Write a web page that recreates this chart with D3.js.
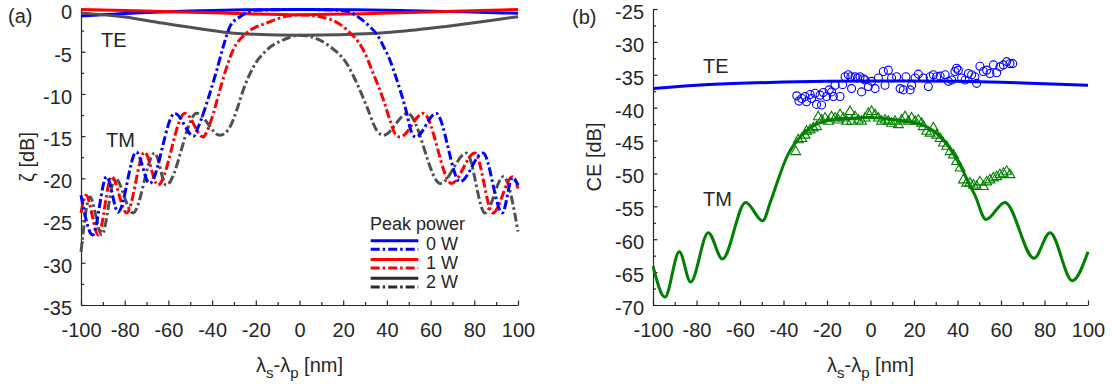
<!DOCTYPE html>
<html>
<head>
<meta charset="utf-8">
<script src="https://cdn.jsdelivr.net/npm/d3@7"></script>
<style>
body { margin: 0; background: #fff; }
svg { display: block; }
text { font-family: "Liberation Sans", Arial, sans-serif; fill: #262626; }
</style>
</head>
<body>
<svg id="chart" width="1112" height="387"></svg>
<script>
// ticks
const xTicks = [-100, -80, -60, -40, -20, 0, 20, 40, 60, 80, 100];
const xMinor = [-90, -70, -50, -30, -10, 10, 30, 50, 70, 90];
const yTicksA = [0, -5, -10, -15, -20, -25, -30, -35];
const yMinorA = [-2.5, -7.5, -12.5, -17.5, -22.5, -27.5, -32.5];
const yTicksB = [-25, -30, -35, -40, -45, -50, -55, -60, -65, -70];
const yMinorB = [-27.5, -32.5, -37.5, -42.5, -47.5, -52.5, -57.5, -62.5, -67.5];

// (a) TE, solid lines  [detuning nm, dB]
const teA0 = [[-100,-0.77],[-75,-0.4],[-50,-0.17],[-25,-0.04],[0,0],[25,-0.04],[50,-0.14],[75,-0.28],[100,-0.45]];
const teA1 = [[-100,0],[-75,-0.15],[-50,-0.32],[-25,-0.5],[0,-0.62],[25,-0.52],[50,-0.36],[75,-0.17],[100,0]];
const teA2 = [[-100,-0.4],[-80,-0.9],[-63,-1.6],[-45,-2.3],[-30,-2.8],[0,-3.05],[36,-2.8],[50,-2.5],[67,-2.0],[85,-1.4],[100,-0.85]];

// (a) TM, dash-dot lines
const tmA0 = [[-100,-22.0],[-94.7,-26.7],[-88.3,-19.8],[-83.0,-24.0],[-74.7,-16.9],[-68.6,-20.6],[-57.1,-12.3],[-48.4,-15.0],
  [-46.5,-14.0],[-44,-12.3],[-41,-9.9],[-37.9,-7.2],[-34.9,-4.4],[-31.8,-2.0],[-27.2,-0.85],[-20,-0.1],[0,0],[15,-0.05],
  [21.6,-0.2],[28,-1.1],[32,-2.0],[35.3,-2.9],[38.5,-4.4],[41.4,-6.0],[44,-7.9],[46,-9.5],[49.1,-12.3],[50.8,-14.2],
  [53.2,-15.1],[62.5,-12.3],[73.5,-20.4],[84,-17.0],[92.8,-24.1],[97.5,-19.9],[100,-20.8]];
const tmA1 = [[-100,-24.1],[-97.7,-22.0],[-92.1,-26.7],[-86.0,-19.8],[-79.1,-24.1],[-70.9,-16.9],[-64.8,-20.8],[-52.4,-12.3],
  [-44.0,-15.1],[-42.5,-14.5],[-39.4,-12.3],[-36.4,-9.5],[-33.3,-6.8],[-30.4,-4.8],[-24.2,-2.8],[-15,-1.6],[-5,-0.75],[0,-0.65],
  [9.4,-0.85],[21.6,-2.4],[29.2,-4.8],[33.8,-7.6],[38.4,-10.7],[41.4,-13.1],[43.7,-14.7],[46,-15.1],[56.7,-12.3],
  [69.6,-20.6],[80.3,-17.0],[88.5,-24.1],[97.5,-19.8],[100,-21.2]];
const tmA2 = [[-100,-28.7],[-95.9,-22.2],[-90.5,-26.7],[-84.4,-20.0],[-76.2,-24.1],[-66.3,-17.0],[-61.0,-20.8],[-47.0,-12.3],
  [-36.4,-14.9],[-31.8,-13.9],[-28.7,-11.9],[-25.7,-9.5],[-21.1,-6.8],[-15,-4.8],[-7.4,-3.6],[0,-3.05],[4.8,-3.2],[14,-4.4],
  [21.6,-6.4],[26.2,-8.7],[30.8,-11.5],[35.3,-14.3],[38.4,-14.9],[49.5,-12.3],[64.5,-20.6],[76.5,-17.0],[84.9,-24.1],
  [93.3,-19.8],[100,-26.3]];

const powers = ["0 W", "1 W", "2 W"];
const colors = ["#0000ff", "#ff0000", "#505050"];
const legendColors = ["#0000ff", "#ff0000", "#2a2a2a"];

// (b) simulated CE
const teB = [[-100,-37.1],[-80,-36.6],[-60,-36.3],[-40,-36.1],[-20,-36.0],[0,-35.95],[20,-35.95],[40,-36.0],[60,-36.15],[80,-36.35],[100,-36.6]];
const tmB = [[-100,-64.1],[-94.5,-68.8],[-87.9,-61.9],[-82.7,-66.5],[-74.6,-59.0],[-68.1,-63.0],[-57.4,-54.4],[-49.6,-57.2],
  [-46,-54.3],[-42,-50.5],[-38.5,-47.5],[-33,-44.7],[-26,-42.7],[-17,-41.8],[-8,-41.6],[0,-41.5],[10,-41.8],[16,-42.1],
  [22.8,-42.5],[28.9,-43.5],[35,-45.5],[41.1,-48.7],[45.7,-51.8],[48,-53.3],[53.1,-57.0],[61.8,-54.4],[75.2,-62.9],
  [82.5,-59.0],[92.8,-66.3],[100,-61.9]];

// (b) measured CE
const teMeas = [[-33.9,-38.2],[-32.9,-39.0],[-31.6,-38.6],[-30.1,-38.3],[-29.4,-39.1],[-27.8,-38.0],[-27.1,-38.6],[-25.5,-37.8],
  [-24.8,-39.5],[-23.2,-38.1],[-22.5,-39.6],[-21.7,-37.7],[-20.2,-38.3],[-19.0,-37.3],[-17.9,-37.6],[-17.1,-38.3],[-16.3,-36.6],
  [-14.0,-38.3],[-12.8,-36.5],[-11.7,-35.3],[-10.2,-35.0],[-9.0,-35.3],[-8.7,-37.1],[-7.1,-35.3],[-6.0,-35.5],[-4.8,-35.3],
  [-4.1,-37.6],[-3.3,-35.6],[-2.5,-35.8],[-1.0,-36.8],[0.5,-36.0],[2.1,-37.1],[3.6,-35.5],[5.9,-34.5],[6.7,-36.6],[8.2,-34.3],
  [9.7,-35.5],[12.0,-35.3],[13.6,-37.1],[15.1,-37.3],[16.3,-35.3],[18.2,-37.3],[18.9,-36.6],[20.5,-35.5],[22.0,-34.9],
  [24.3,-35.5],[26.6,-36.8],[27.4,-35.3],[28.9,-35.0],[30.4,-35.3],[32.0,-35.2],[34.3,-35.0],[35.8,-36.0],[37.3,-35.8],
  [38.8,-34.5],[39.6,-34.0],[40.4,-34.3],[41.9,-35.5],[43.5,-35.8],[45.0,-34.8],[46.5,-35.0],[48.0,-35.3],[48.8,-36.3],
  [50.3,-33.7],[51.9,-34.5],[53.4,-34.3],[54.9,-34.8],[56.5,-33.5],[58.0,-34.7],[59.5,-33.8],[61.1,-33.5],[62.6,-33.0],
  [64.1,-33.3],[65.4,-33.3]];
const tmMeas = [[-34.4,-46.7],[-33.2,-44.9],[-31.6,-44.7],[-30.1,-44.2],[-29.4,-43.6],[-27.8,-43.4],[-26.3,-43.1],[-24.8,-42.9],
  [-24.0,-41.4],[-22.5,-41.9],[-20.9,-41.6],[-19.4,-42.1],[-17.9,-41.4],[-16.3,-41.6],[-14.8,-41.9],[-14.0,-41.1],[-12.5,-41.6],
  [-11.0,-42.1],[-9.4,-40.6],[-8.7,-42.1],[-7.1,-41.4],[-5.6,-41.9],[-4.1,-42.1],[-2.5,-41.6],[-1.0,-40.9],[0.5,-40.6],
  [2.1,-41.1],[3.6,-41.6],[5.1,-42.1],[6.7,-41.9],[8.2,-42.1],[9.7,-42.4],[11.3,-42.1],[12.8,-42.6],[14.3,-41.9],[15.9,-41.4],
  [17.4,-42.1],[18.9,-41.6],[20.5,-42.1],[22.0,-41.9],[23.5,-42.4],[24.3,-42.9],[25.8,-43.6],[27.4,-43.9],[28.9,-43.1],
  [30.4,-44.2],[32.0,-44.7],[33.5,-45.4],[35.0,-45.9],[36.6,-46.7],[38.1,-47.2],[39.6,-48.2],[41.2,-49.2],[42.7,-51.0],
  [44.2,-51.5],[45.7,-51.5],[47.3,-51.8],[48.8,-52.0],[50.3,-51.3],[51.9,-52.0],[53.4,-51.3],[54.9,-51.0],[56.5,-50.7],
  [58.0,-50.5],[59.5,-50.2],[61.1,-50.0],[62.6,-49.7],[64.1,-50.2]];

const svg = d3.select("#chart");
const dashDot = "9,3,2.5,3";

const xA = d3.scaleLinear().domain([-100, 100]).range([81, 518]);
const yA = d3.scaleLinear().domain([-35, 0]).range([305, 9.5]);
const xB = d3.scaleLinear().domain([-100, 100]).range([653, 1088]);
const yB = d3.scaleLinear().domain([-70, -25]).range([305, 9]);

function drawAxes(x, y, yTicks, yMinor) {
  const y0 = y.range()[0], x0 = x.range()[0];
  const gx = svg.append("g").attr("transform", "translate(0," + y0 + ")")
    .call(d3.axisBottom(x).tickValues(xTicks).tickSize(-4.5).tickSizeOuter(0).tickPadding(18).tickFormat(d3.format("d")));
  svg.append("g").attr("transform", "translate(0," + y0 + ")")
    .call(d3.axisBottom(x).tickValues(xMinor).tickSize(-3).tickFormat(""))
    .call(g => g.select(".domain").remove());
  const gy = svg.append("g").attr("transform", "translate(" + x0 + ",0)")
    .call(d3.axisLeft(y).tickValues(yTicks).tickSize(-4.5).tickSizeOuter(0).tickPadding(9).tickFormat(d3.format("d")));
  svg.append("g").attr("transform", "translate(" + x0 + ",0)")
    .call(d3.axisLeft(y).tickValues(yMinor).tickSize(-3).tickFormat(""))
    .call(g => g.select(".domain").remove());
  gy.selectAll("text").attr("dy", "0.47em");
  svg.selectAll(".tick line, .domain").attr("stroke", "#262626").attr("stroke-width", 1.2);
  [gx, gy].forEach(g => g.selectAll("text")
    .attr("font-size", 20).attr("font-family", "Liberation Sans, Arial, sans-serif")
    .attr("fill", "#262626").text(d => d < 0 ? "-" + Math.abs(d) : d));
}

function xLabel(cx) {
  const t = svg.append("text").attr("x", cx).attr("y", 372).attr("text-anchor", "middle").attr("font-size", 20);
  t.append("tspan").text("λ");
  t.append("tspan").attr("font-size", 15).attr("dy", 6).text("s");
  t.append("tspan").attr("dy", -6).text("-λ");
  t.append("tspan").attr("font-size", 15).attr("dy", 6).text("p");
  t.append("tspan").attr("dy", -6).text(" [nm]");
}

function yLabel(bx, cy, s) {
  svg.append("text").attr("transform", "translate(" + bx + "," + cy + ") rotate(-90)")
    .attr("text-anchor", "middle").attr("font-size", 20).text(s);
}

function label(x, y, s) {
  svg.append("text").attr("x", x).attr("y", y).attr("font-size", 20).text(s);
}

// panel (a)
drawAxes(xA, yA, yTicksA, yMinorA);
const lineA = d3.line().x(d => xA(d[0])).y(d => yA(d[1])).curve(d3.curveMonotoneX);
[teA0, teA1, teA2].forEach((s, i) => {
  svg.append("path").attr("d", lineA(s)).attr("fill", "none")
    .attr("stroke", colors[i]).attr("stroke-width", 3);
});
[tmA2, tmA1, tmA0].forEach((s, i) => {
  svg.append("path").attr("d", lineA(s)).attr("fill", "none")
    .attr("stroke", colors[2 - i]).attr("stroke-width", 3)
    .attr("stroke-dasharray", dashDot);
});
xLabel(299.5);
yLabel(34, 157, "ζ [dB]");
label(8, 23, "(a)");
label(101, 47, "TE");
label(106, 147, "TM");

// legend
svg.append("text").attr("x", 370).attr("y", 229.5).attr("font-size", 18).text("Peak power");
powers.forEach((p, i) => {
  const top = 240.7 + i * 18.8;
  svg.append("line").attr("x1", 370.7).attr("x2", 418.3).attr("y1", top).attr("y2", top)
    .attr("stroke", legendColors[i]).attr("stroke-width", 3);
  svg.append("line").attr("x1", 370.7).attr("x2", 418.3).attr("y1", top + 8.6).attr("y2", top + 8.6)
    .attr("stroke", legendColors[i]).attr("stroke-width", 3).attr("stroke-dasharray", dashDot);
  svg.append("text").attr("x", 426).attr("y", top + 9.5).attr("font-size", 18).text(p);
});

// panel (b)
drawAxes(xB, yB, yTicksB, yMinorB);
const lineB = d3.line().x(d => xB(d[0])).y(d => yB(d[1])).curve(d3.curveMonotoneX);

svg.append("g").selectAll("path").data(tmMeas).enter().append("path")
  .attr("d", d3.symbol(d3.symbolTriangle, 42))
  .attr("transform", d => "translate(" + xB(d[0]) + "," + yB(d[1]) + ")")
  .attr("fill", "none").attr("stroke", "#008000").attr("stroke-width", 1.1);
svg.append("g").selectAll("circle").data(teMeas).enter().append("circle")
  .attr("cx", d => xB(d[0])).attr("cy", d => yB(d[1])).attr("r", 4)
  .attr("fill", "none").attr("stroke", "#0000ff").attr("stroke-width", 1.1);

svg.append("path").attr("d", lineB(teB)).attr("fill", "none")
  .attr("stroke", "#0000ff").attr("stroke-width", 3);
svg.append("path").attr("d", lineB(tmB)).attr("fill", "none")
  .attr("stroke", "#008000").attr("stroke-width", 3);

xLabel(870.5);
yLabel(601, 157, "CE [dB]");
label(572, 24, "(b)");
label(703, 73, "TE");
label(703, 205.5, "TM");
</script>
</body>
</html>
